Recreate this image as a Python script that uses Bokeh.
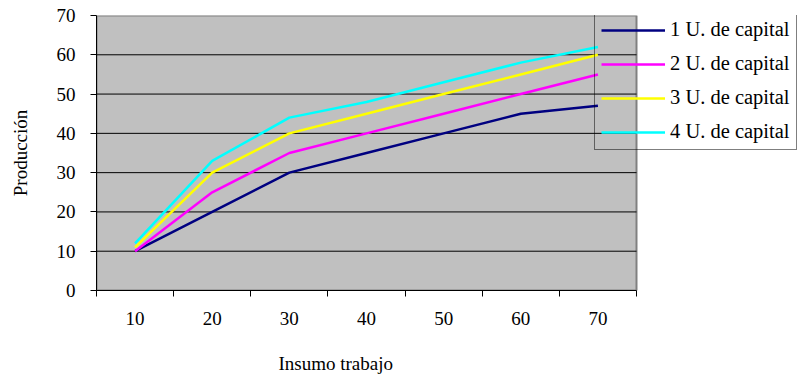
from bokeh.plotting import figure
from bokeh.models import Range1d, FixedTicker, Legend, LegendItem, Title
from bokeh.embed import file_html
from bokeh.resources import INLINE

insumo = [10, 20, 30, 40, 50, 60, 70]
cap1 = [10, 20, 30, 35, 40, 45, 47]
cap2 = [10, 25, 35, 40, 45, 50, 55]
cap3 = [11, 30, 40, 45, 50, 55, 60]
cap4 = [12, 33, 44, 48, 53, 58, 62]
series_names = ["1 U. de capital", "2 U. de capital", "3 U. de capital", "4 U. de capital"]
colors = ["#000080", "#FF00FF", "#FFFF00", "#00FFFF"]
y_ticks = [0, 10, 20, 30, 40, 50, 60, 70]
x_bounds = [5, 15, 25, 35, 45, 55, 65, 75]

FONT = "Liberation Serif"
FS = "19px"

XMIN, XMAX = x_bounds[0], x_bounds[-1]
YMIN, YMAX = y_ticks[0], y_ticks[-1]
# plot area 540 px wide for x 5..75; frame extended to the window edge so the legend can overhang
FRAME_W = 798 - 96
x_end = XMIN + (XMAX - XMIN) * FRAME_W / 540.0

p = figure(width=798, height=377, output_backend="svg", toolbar_location=None,
           x_range=Range1d(XMIN, x_end), y_range=Range1d(YMIN, YMAX),
           min_border_left=96, min_border_right=0, min_border_top=15, min_border_bottom=87)
p.border_fill_color = "white"
p.background_fill_color = "white"
p.outline_line_color = None

# gray plot area
p.quad(left=[XMIN], right=[XMAX], bottom=[YMIN], top=[YMAX],
       fill_color="#C0C0C0", line_color="#808080", line_width=2)

p.xgrid.visible = False
p.ygrid.visible = False
grid_y = y_ticks[1:-1]
p.segment(x0=[XMIN] * len(grid_y), x1=[XMAX] * len(grid_y), y0=grid_y, y1=grid_y,
          line_color="black", line_width=1)

p.yaxis.ticker = FixedTicker(ticks=y_ticks)
p.yaxis.minor_tick_line_color = None
p.yaxis.major_tick_out = 6
p.yaxis.major_tick_in = 0
p.yaxis.major_label_standoff = 15
p.yaxis.axis_label = "Producción"
p.yaxis.axis_label_standoff = 23

p.xaxis.ticker = FixedTicker(ticks=insumo, minor_ticks=x_bounds)
p.xaxis.bounds = (XMIN, XMAX)
p.xaxis.major_tick_out = 0
p.xaxis.major_tick_in = 0
p.xaxis.minor_tick_out = 6
p.xaxis.minor_tick_in = 0
p.xaxis.minor_tick_line_color = "black"
p.xaxis.major_label_standoff = 15

for ax in (p.xaxis, p.yaxis):
    ax.axis_line_color = "black"
    ax.major_tick_line_color = "black"
    ax.major_label_text_font = FONT
    ax.major_label_text_font_size = FS
    ax.major_label_text_color = "black"
    ax.axis_label_text_font = FONT
    ax.axis_label_text_font_size = FS
    ax.axis_label_text_font_style = "normal"
    ax.axis_label_text_color = "black"

xlabel = Title(text="\nInsumo trabajo", align="left", offset=182, standoff=0,
               vertical_align="bottom", text_line_height=1.15,
               text_font=FONT, text_font_size=FS, text_font_style="normal", text_color="black")
p.add_layout(xlabel, "below")

items = []
for name, ys, c in zip(series_names, [cap1, cap2, cap3, cap4], colors):
    r = p.line(insumo, ys, line_color=c, line_width=2.5)
    items.append(LegendItem(label=name, renderers=[r]))

legend = Legend(items=items, location=(498, 140), orientation="vertical",
                padding=6, margin=0, spacing=11,
                glyph_width=64, glyph_height=20, label_height=22, label_standoff=5,
                label_text_font=FONT, label_text_font_size="20.5px", label_text_color="black",
                border_line_color="black", border_line_width=1,
                background_fill_alpha=0.0)
p.add_layout(legend, "center")

open("out.html", "w").write(file_html(p, INLINE))
